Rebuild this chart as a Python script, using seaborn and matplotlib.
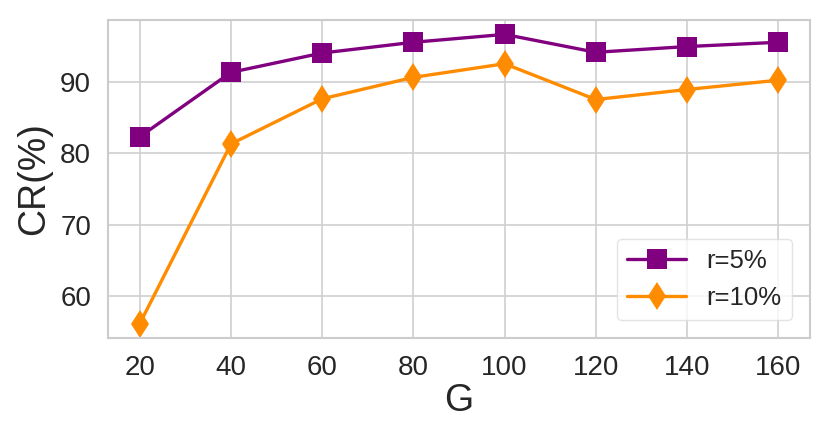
import matplotlib
matplotlib.use("Agg")
import matplotlib.pyplot as plt
import seaborn as sns
import pandas as pd

G = [20, 40, 60, 80, 100, 120, 140, 160]
r5 = [82.3, 91.3, 94.0, 95.5, 96.6, 94.1, 94.9, 95.5]
r10 = [56.2, 81.3, 87.6, 90.6, 92.5, 87.5, 88.9, 90.2]
series_names = ["r=5%", "r=10%"]

sns.set_theme(style="whitegrid")
plt.rcParams['font.family'] = ['Liberation Sans', 'DejaVu Sans']

df = pd.DataFrame({"G": G * 2, "CR": r5 + r10,
                   "series": [series_names[0]] * len(G) + [series_names[1]] * len(G)})

fig = plt.figure(figsize=(8.3, 4.43), dpi=100)
ax = fig.add_axes([0.130, 0.237, 0.846, 0.718])

sns.lineplot(data=df, x="G", y="CR", hue="series", style="series",
             palette=["purple", "darkorange"], markers=["s", "d"], dashes=False,
             markersize=14.5, linewidth=2.4, markeredgewidth=0, ax=ax)

ax.set_xticks(G)
ax.tick_params(axis='both', labelsize=20, colors='#262626', pad=6)
ax.set_xlabel("G", fontsize=27, color='#262626', labelpad=2)
ax.set_ylabel("CR(%)", fontsize=27, color='#262626', labelpad=6)
for s in ax.spines.values():
    s.set_color('#cccccc')
    s.set_linewidth(1.5)
ax.grid(color='#d0d0d0', linewidth=1.2)

leg = ax.legend(loc='lower right', fontsize=18.5, borderaxespad=0.7,
                handlelength=2.3, framealpha=0.8)
leg.get_frame().set_edgecolor('#dddddd')

fig.savefig("out.png", dpi=100)
